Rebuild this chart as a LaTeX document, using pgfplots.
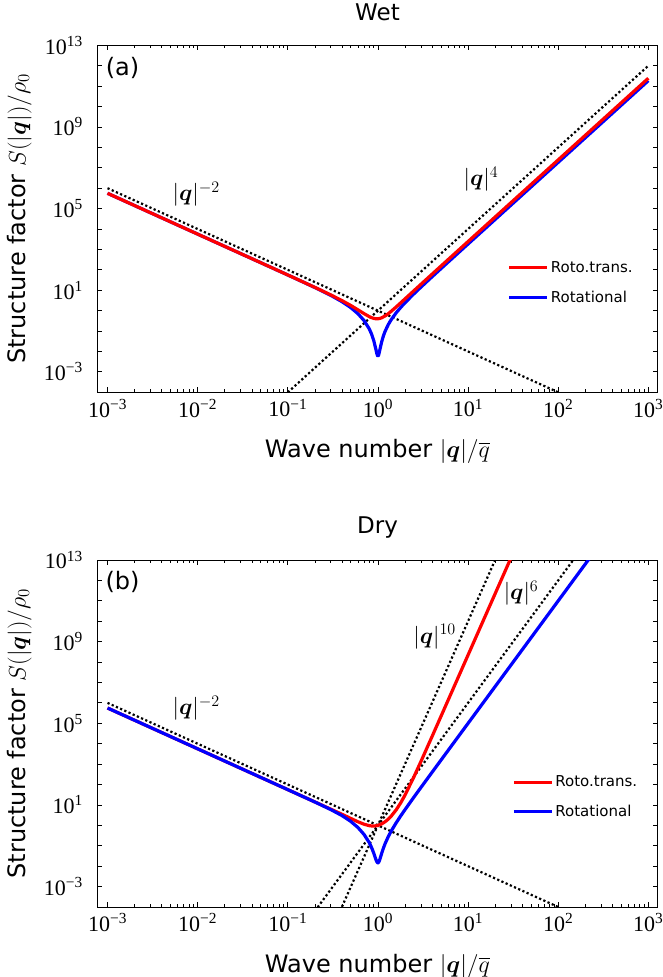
\RequirePackage{fix-cm}
\documentclass[border=0pt]{standalone}
\usepackage{amsmath}
\usepackage[no-math]{fontspec}
\setmainfont{DejaVu Sans}
\newfontfamily\tickfont{Liberation Serif}
\usepackage{pgfplots}
\pgfplotsset{compat=1.18}

\tikzset{
  redline/.style={color=red, line width=3.2pt, line join=round},
  blueline/.style={color=blue, line width=3.2pt, line join=round},
  dotline/.style={black, line width=2.2pt, dash pattern=on 2.2pt off 2.4pt},
}

\begin{document}
\begin{tikzpicture}
\useasboundingbox (0,0) rectangle (663pt,-977pt);

% ---- (a) wet ----
\begin{axis}[at={(97.3pt,-392.3pt)}, anchor=south west,
    scale only axis, width=560.4pt, height=347pt,
    xmode=log, ymode=log,
    xmin=7.7e-4, xmax=1.27e3, ymin=1e-4, ymax=1e13,
    xtick={1e-3,1e-2,1e-1,1,1e1,1e2,1e3},
    xticklabels={10\textsuperscript{−3},10\textsuperscript{−2},10\textsuperscript{−1},10\textsuperscript{0},10\textsuperscript{1},10\textsuperscript{2},10\textsuperscript{3}},
    ytick={1e-4,1e-3,1e-2,1e-1,1,1e1,1e2,1e3,1e4,1e5,1e6,1e7,1e8,1e9,1e10,1e11,1e12,1e13},
    yticklabels={,10\textsuperscript{−3},,,,10\textsuperscript{1},,,,10\textsuperscript{5},,,,10\textsuperscript{9},,,,10\textsuperscript{13}},
    yminorticks=false,
    tick align=inside, tickpos=both,
    major tick length=5pt, minor tick length=3pt,
    tick style={black, line width=0.8pt},
    axis line style={line width=1pt},
    tick label style={font=\tickfont\fontsize{22}{26}\selectfont},
    yticklabel style={xshift=-11pt},
    xticklabel style={yshift=-3pt},
    xlabel={Wave number $|\boldsymbol{q}|/\overline{q}$},
    ylabel={Structure factor $S(|\boldsymbol{q}|)/\rho_0$},
    label style={font=\fontsize{24}{28}\selectfont},
    xlabel style={at={(axis description cs:0.5,-0.17)}, anchor=center},
    ylabel style={at={(axis description cs:-0.139,0.5)}, anchor=center},
    title={Wet},
    title style={at={(axis description cs:0.5,1.077)}, anchor=center,
                 font=\fontsize{23}{27}\selectfont},
    legend cell align=left,
    legend style={draw=none, fill=none, anchor=north west,
                  at={(axis description cs:0.732,0.384)},
                  font=\fontsize{15}{18}\selectfont, row sep=13pt, inner sep=0pt},
    legend image code/.code={\draw[#1] (0pt,0pt) -- (38pt,0pt);},
  ]
\addplot[dotline, forget plot] coordinates {(1e-3,1e6) (1e2,1e-4)};
\addplot[dotline, forget plot] coordinates {(1e-1,1e-4) (1e3,1e12)};
\addplot[blueline, forget plot] coordinates {
(0.001,5.618e5)(0.01,5618)(0.05,224.6)(0.1,55.96)(0.2,13.60)(0.3,5.613)
(0.4,2.745)(0.5,1.408)(0.6,0.7100)(0.7,0.3313)(0.8,0.1295)(0.85,0.07106)
(0.9,0.03327)(0.95,0.01245)(0.97,0.008257)(0.98,0.006979)(0.99,0.006227)
(1,0.005989)(1.01,0.006252)(1.02,0.007007)(1.03,0.008242)(1.05,0.01212)
(1.1,0.02968)(1.15,0.05799)(1.2,0.0967)(1.3,0.2052)(1.4,0.3568)(1.6,0.8058)
(1.8,1.488)(2,2.460)(2.5,6.614)(3,14.26)(4,46.43)(6,238.5)(10,1849)
(30,1.500e5)(100,1.852e7)(1000,1.852e11)};
\addplot[redline] coordinates {
(0.001,5.618e5)(0.01,5618)(0.05,224.7)(0.1,56.06)(0.2,13.81)(0.3,5.906)
(0.4,3.099)(0.5,1.792)(0.6,1.102)(0.7,0.7195)(0.8,0.5130)(0.85,0.4541)
(0.9,0.4179)(0.95,0.4011)(1,0.4014)(1.05,0.4171)(1.1,0.4472)(1.2,0.549)
(1.3,0.7059)(1.4,0.9205)(1.6,1.5453)(1.8,2.481)(2,3.803)(2.5,9.386)
(3,19.58)(4,62.20)(6,315.7)(10,2438)(30,1.9756e5)(100,2.439e7)(1000,2.439e11)};
\addlegendentry{Roto.trans.}
\addlegendimage{blueline}
\addlegendentry{Rotational}
\node[font=\fontsize{23}{27}\selectfont] at (axis cs:0.00964,5.25e5) {$|\boldsymbol{q}|^{-2}$};
\node[font=\fontsize{23}{27}\selectfont] at (axis cs:13.9,2.82e6) {$|\boldsymbol{q}|^{4}$};
\node[font=\fontsize{24}{28}\selectfont] at (axis description cs:0.045,0.935) {(a)};
\end{axis}

% ---- (b) dry ----
\begin{axis}[at={(97.3pt,-907pt)}, anchor=south west,
    scale only axis, width=560.4pt, height=347pt,
    xmode=log, ymode=log,
    xmin=7.7e-4, xmax=1.27e3, ymin=1e-4, ymax=1e13,
    xtick={1e-3,1e-2,1e-1,1,1e1,1e2,1e3},
    xticklabels={10\textsuperscript{−3},10\textsuperscript{−2},10\textsuperscript{−1},10\textsuperscript{0},10\textsuperscript{1},10\textsuperscript{2},10\textsuperscript{3}},
    ytick={1e-4,1e-3,1e-2,1e-1,1,1e1,1e2,1e3,1e4,1e5,1e6,1e7,1e8,1e9,1e10,1e11,1e12,1e13},
    yticklabels={,10\textsuperscript{−3},,,,10\textsuperscript{1},,,,10\textsuperscript{5},,,,10\textsuperscript{9},,,,10\textsuperscript{13}},
    yminorticks=false,
    tick align=inside, tickpos=both,
    major tick length=5pt, minor tick length=3pt,
    tick style={black, line width=0.8pt},
    axis line style={line width=1pt},
    tick label style={font=\tickfont\fontsize{22}{26}\selectfont},
    yticklabel style={xshift=-11pt},
    xticklabel style={yshift=-3pt},
    xlabel={Wave number $|\boldsymbol{q}|/\overline{q}$},
    ylabel={Structure factor $S(|\boldsymbol{q}|)/\rho_0$},
    label style={font=\fontsize{24}{28}\selectfont},
    xlabel style={at={(axis description cs:0.5,-0.17)}, anchor=center},
    ylabel style={at={(axis description cs:-0.139,0.5)}, anchor=center},
    title={Dry},
    title style={at={(axis description cs:0.5,1.077)}, anchor=center,
                 font=\fontsize{23}{27}\selectfont},
    legend cell align=left,
    legend style={draw=none, fill=none, anchor=north west,
                  at={(axis description cs:0.740,0.384)},
                  font=\fontsize{15}{18}\selectfont, row sep=13pt, inner sep=0pt},
    legend image code/.code={\draw[#1] (0pt,0pt) -- (38pt,0pt);},
  ]
\addplot[dotline, forget plot] coordinates {(1e-3,1e6) (1e2,1e-4)};
\addplot[dotline, forget plot] coordinates {(0.3,5.9049e-6) (30,5.9049e14)};
\addplot[dotline, forget plot] coordinates {(0.2,6.4e-5) (300,7.29e14)};
\addplot[redline] coordinates {
(0.001,5.618e5)(0.01,5618)(0.05,224.7)(0.1,56.18)(0.2,14.04)(0.3,6.229)
(0.4,3.475)(0.5,2.1835)(0.6,1.4993)(0.7,1.1388)(0.8,0.9701)(0.85,0.9365)
(0.9,0.931)(0.95,0.9525)(1,1.0004)(1.05,1.0760)(1.1,1.1818)(1.2,1.5007)
(1.3,2.0089)(1.4,2.7958)(1.6,5.8866)(1.8,13.298)(2,30.826)(2.5,231.42)
(3,1352.5)(4,23429)(6,1.34434e6)(10,2.2223e8)(20,2.2756e11)(30,1.3122e13)};
\addlegendentry{Roto.trans.}
\addplot[blueline] coordinates {
(0.001,5.618e5)(0.01,5618)(0.05,224.7)(0.1,56.14)(0.2,13.90)(0.3,5.926)
(0.4,2.996)(0.5,1.5626)(0.6,0.7841)(0.7,0.3620)(0.8,0.1438)(0.85,0.08218)
(0.9,0.04273)(0.95,0.02106)(0.97,0.01673)(0.99,0.01469)(1,0.0145)
(1.01,0.01486)(1.03,0.01719)(1.05,0.02167)(1.1,0.04222)(1.15,0.07663)
(1.2,0.1261)(1.3,0.2774)(1.4,0.5164)(1.6,1.3764)(1.8,3.0282)(2,5.947)
(2.5,23.72)(3,71.91)(4,407.8)(6,4661.7)(10,9.999e4)(30,7.29e7)(100,1e11)(300,7.29e13)};
\addlegendentry{Rotational}
\node[font=\fontsize{23}{27}\selectfont] at (axis cs:0.00964,5.5e5) {$|\boldsymbol{q}|^{-2}$};
\node[font=\fontsize{23}{27}\selectfont] at (axis cs:4.26,1.78e9) {$|\boldsymbol{q}|^{10}$};
\node[font=\fontsize{23}{27}\selectfont] at (axis cs:38.7,2.34e11) {$|\boldsymbol{q}|^{6}$};
\node[font=\fontsize{24}{28}\selectfont] at (axis description cs:0.045,0.938) {(b)};
\end{axis}
\end{tikzpicture}
\end{document}
